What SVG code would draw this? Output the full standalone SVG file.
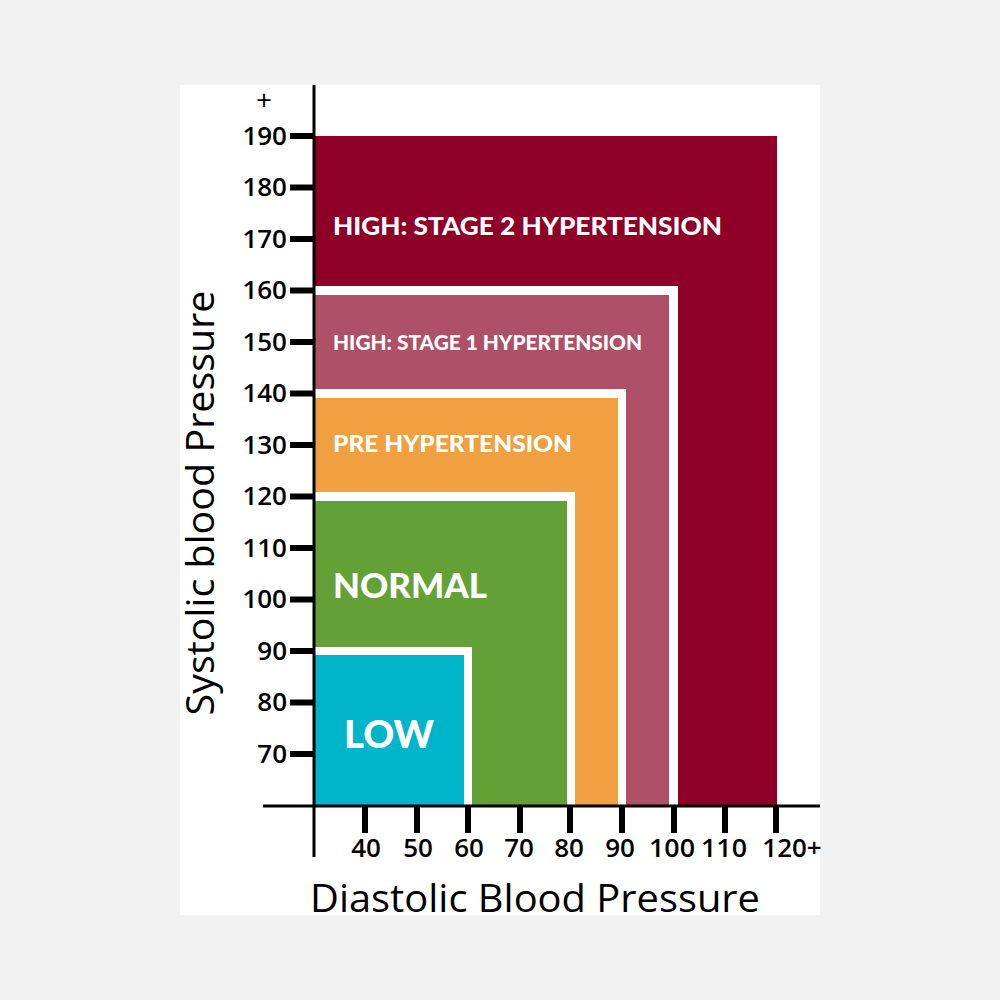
<svg xmlns="http://www.w3.org/2000/svg" width="1000" height="1000" viewBox="0 0 1000 1000">
<style>
.ax{stroke:#000;stroke-width:3;fill:none}
.tk{stroke:#000;stroke-width:6}
.num{font-family:"Open Sans","DejaVu Sans",sans-serif;font-size:26px;font-weight:600;fill:#000}
.zl{font-family:Lato,"Open Sans",sans-serif;font-weight:900;fill:#fff}
.title{font-family:"Open Sans","DejaVu Sans",sans-serif;font-size:38px;fill:#000}
</style>
<rect width="1000" height="1000" fill="#f2f2f2"/>
<rect x="180" y="85" width="640" height="830" fill="#fff"/>
<g id="stage2"><rect x="314" y="136" width="463" height="670" fill="#8e0028"/>
<text class="zl" x="333" y="235" font-size="24" textLength="389" lengthAdjust="spacingAndGlyphs">HIGH: STAGE 2 HYPERTENSION</text></g>
<g id="stage1"><rect x="314" y="286" width="364" height="520" fill="#fff"/><rect x="314" y="295" width="355" height="511" fill="#ad5068"/>
<text class="zl" x="333" y="350" font-size="20" textLength="309" lengthAdjust="spacingAndGlyphs">HIGH: STAGE 1 HYPERTENSION</text></g>
<g id="pre"><rect x="314" y="389" width="312" height="417" fill="#fff"/><rect x="314" y="398" width="304" height="408" fill="#f0a040"/>
<text class="zl" x="333" y="452" font-size="22" textLength="239" lengthAdjust="spacingAndGlyphs">PRE HYPERTENSION</text></g>
<g id="normal"><rect x="314" y="492" width="261" height="314" fill="#fff"/><rect x="314" y="501" width="253" height="305" fill="#63a136"/>
<text class="zl" x="333" y="598" font-size="34" textLength="154" lengthAdjust="spacingAndGlyphs">NORMAL</text></g>
<g id="low"><rect x="314" y="647" width="158" height="159" fill="#fff"/><rect x="314" y="655" width="150" height="151" fill="#00b5c9"/>
<text class="zl" x="344" y="748" font-size="38" textLength="90" lengthAdjust="spacingAndGlyphs">LOW</text></g>
<g id="axes">
<line class="ax" x1="314" y1="85" x2="314" y2="857"/>
<line class="ax" x1="263" y1="806" x2="820" y2="806"/>
<g class="tk">
<line x1="290" y1="136" x2="314" y2="136"/><line x1="290" y1="187.5" x2="314" y2="187.5"/><line x1="290" y1="239" x2="314" y2="239"/><line x1="290" y1="290.5" x2="314" y2="290.5"/><line x1="290" y1="342" x2="314" y2="342"/><line x1="290" y1="393.5" x2="314" y2="393.5"/><line x1="290" y1="445" x2="314" y2="445"/><line x1="290" y1="496.5" x2="314" y2="496.5"/><line x1="290" y1="548" x2="314" y2="548"/><line x1="290" y1="599.5" x2="314" y2="599.5"/><line x1="290" y1="651" x2="314" y2="651"/><line x1="290" y1="702.5" x2="314" y2="702.5"/><line x1="290" y1="754" x2="314" y2="754"/>
<line x1="365" y1="806" x2="365" y2="833"/><line x1="417" y1="806" x2="417" y2="833"/><line x1="468" y1="806" x2="468" y2="833"/><line x1="520" y1="806" x2="520" y2="833"/><line x1="570" y1="806" x2="570" y2="833"/><line x1="622" y1="806" x2="622" y2="833"/><line x1="674" y1="806" x2="674" y2="833"/><line x1="725" y1="806" x2="725" y2="833"/><line x1="776" y1="806" x2="776" y2="833"/>
</g>
<g class="num" text-anchor="end">
<text x="272" y="110" font-size="28" font-weight="400">+</text>
<text x="287" y="145">190</text><text x="287" y="196">180</text><text x="287" y="248">170</text><text x="287" y="299">160</text><text x="287" y="351">150</text><text x="287" y="402">140</text><text x="287" y="454">130</text><text x="287" y="505">120</text><text x="287" y="557">110</text><text x="287" y="608">100</text><text x="287" y="660">90</text><text x="287" y="711">80</text><text x="287" y="763">70</text>
</g>
<g class="num" text-anchor="middle">
<text x="366" y="857">40</text><text x="418" y="857">50</text><text x="469" y="857">60</text><text x="519" y="857">70</text><text x="569" y="857">80</text><text x="620" y="857">90</text><text x="672" y="857" textLength="46" lengthAdjust="spacingAndGlyphs">100</text><text x="724" y="857" textLength="46" lengthAdjust="spacingAndGlyphs">110</text><text x="792" y="857">120+</text>
</g>
<text class="title" x="535" y="912" text-anchor="middle" textLength="450" lengthAdjust="spacingAndGlyphs">Diastolic Blood Pressure</text>
<text class="title" transform="translate(214,503) rotate(-90)" text-anchor="middle" textLength="425" lengthAdjust="spacingAndGlyphs">Systolic blood Pressure</text>
</g>
</svg>
